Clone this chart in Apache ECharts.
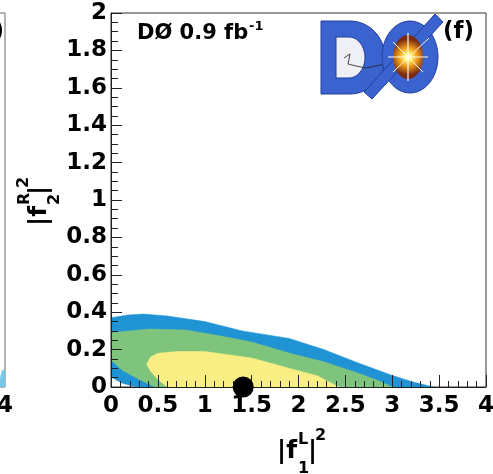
<!DOCTYPE html>
<html><head><meta charset="utf-8">
<script src="https://cdn.jsdelivr.net/npm/echarts@6/dist/echarts.min.js"></script>
<style>html,body{margin:0;padding:0;background:#fff}#c{width:493px;height:474px}</style>
</head><body><div id="c"></div>
<script>
// ---- data ----
const xTickValues = [0, 0.5, 1, 1.5, 2, 2.5, 3, 3.5, 4];
const yTickValues = [0, 0.2, 0.4, 0.6, 0.8, 1, 1.2, 1.4, 1.6, 1.8, 2];
// outer contour (blue)
const outerX = [0, 0, 0.18, 0.35, 0.6, 1.0, 1.4, 1.9, 2.27, 2.63, 2.98, 3.2, 3.44, 0.27, 0.12];
const outerY = [0.053, 0.37, 0.385, 0.39, 0.38, 0.35, 0.30, 0.26, 0.20, 0.13, 0.065, 0.03, 0, 0, 0.02];
// middle contour (green)
const midX = [0, 0, 0.4, 0.8, 1.2, 1.5, 1.91, 2.27, 2.63, 2.85, 3.0, 0.47, 0.3, 0.12];
const midY = [0.144, 0.29, 0.31, 0.305, 0.27, 0.24, 0.18, 0.135, 0.075, 0.035, 0, 0, 0.04, 0.09];
// inner contour (yellow)
const innerX = [0.38, 0.42, 0.5, 0.7, 1.0, 1.5, 1.9, 2.2, 2.43, 0.6, 0.5, 0.42];
const innerY = [0.12, 0.16, 0.18, 0.19, 0.19, 0.155, 0.10, 0.06, 0, 0, 0.04, 0.085];
// neighbouring panel fragment
const leftX = [3.94, 3.94, 3.97, 4.0, 4.0];
const leftY = [0, 0.03, 0.09, 0.09, 0];
const leftTickLabels = [4];
// best fit point
const bestX = [1.41];
const bestY = [0];

const toPts = (xs, ys) => xs.map((x, i) => [x, ys[i]]);
const FONT = '"DejaVu Sans", "Liberation Sans", sans-serif';
const pick = (list, v) => { const t = list.find(a => Math.abs(a - v) < 1e-6); return t === undefined ? '' : String(t); };

function polySeries(name, xs, ys, color, gi) {
  const pts = toPts(xs, ys);
  return {
    type: 'custom', name, xAxisIndex: gi, yAxisIndex: gi, z: 2,
    data: pts, clip: true, silent: true,
    renderItem: function (params, api) {
      if (params.dataIndex !== 0) return null;
      const p = pts.map(d => api.coord(d));
      return { type: 'polygon', shape: { points: p }, style: { fill: color, stroke: color, lineWidth: 0.5 } };
    }
  };
}

function txt(x, y, s, size, align, extra) {
  return Object.assign({
    type: 'text', x, y, z: 100,
    style: { text: s, font: 'bold ' + size + 'px ' + FONT, fill: '#000',
      textAlign: align || 'left', textVerticalAlign: 'middle' }
  }, extra || {});
}

function axisTitle(x, y, rot, sup, sub, supOff, subOff) {
  return {
    type: 'group', x, y, rotation: rot, z: 100,
    children: [
      txt(0, 0, '|f', 25, 'left'),
      txt(21, supOff, sup, 16, 'left'),
      txt(21, subOff, sub, 16, 'left'),
      txt(31, 0, '|', 25, 'left'),
      txt(38, -15, '2', 16, 'left')
    ]
  };
}

// logo shape helpers (decorative only)
function halfEll(cx, cy, rx, ry, a0, a1, n) {
  const out = [];
  for (let i = 0; i <= n; i++) { const a = a0 + (a1 - a0) * i / n; out.push([cx + rx * Math.cos(a), cy + ry * Math.sin(a)]); }
  return out;
}
const blue = '#3b63cf', blueEdge = '#23409a';
const dOuter = [[321, 21]].concat(halfEll(350, 57.5, 35, 36.5, -Math.PI / 2, Math.PI / 2, 24)).concat([[321, 94]]);
const dInner = [[336, 37]].concat(halfEll(349, 57.5, 16, 20.5, -Math.PI / 2, Math.PI / 2, 20)).concat([[336, 78]]);

const logo = {
  type: 'group', z: 90,
  children: [
    { type: 'polygon', shape: { points: dOuter }, style: { fill: blue, stroke: blueEdge, lineWidth: 1 } },
    { type: 'polygon', shape: { points: dInner }, style: { fill: '#eef0f6', stroke: blueEdge, lineWidth: 1 } },
    { type: 'polyline', shape: { points: [[344, 58], [350, 54], [348, 64], [356, 66], [366, 68], [385, 64], [400, 58]] }, style: { stroke: '#222', lineWidth: 0.8, fill: null } },
    { type: 'polygon', shape: { points: halfEll(410, 57, 28, 36, 0, Math.PI * 2, 48) }, style: { fill: blue, stroke: blueEdge, lineWidth: 1 } },
    { type: 'polygon', shape: { points: [[364, 92], [372, 99], [443, 22], [435, 14]] }, style: { fill: blue, stroke: blueEdge, lineWidth: 1 } },
    { type: 'polygon', shape: { points: halfEll(408, 57, 15, 22, 0, Math.PI * 2, 40) }, style: {
      fill: { type: 'radial', x: 0.5, y: 0.5, r: 0.6, colorStops: [
        { offset: 0, color: '#ffffff' }, { offset: 0.2, color: '#fff47a' },
        { offset: 0.5, color: '#f2a11f' }, { offset: 1, color: '#7a2a10' }] } } },
    { type: 'line', shape: { x1: 388, y1: 57, x2: 428, y2: 57 }, style: { stroke: '#fffbe0', lineWidth: 1.2 } },
    { type: 'line', shape: { x1: 408, y1: 33, x2: 408, y2: 81 }, style: { stroke: '#fffbe0', lineWidth: 1.2 } },
    { type: 'line', shape: { x1: 393, y1: 42, x2: 423, y2: 72 }, style: { stroke: '#fffbe0', lineWidth: 1 } },
    { type: 'line', shape: { x1: 393, y1: 72, x2: 429, y2: 38 }, style: { stroke: '#fffbe0', lineWidth: 1 } }
  ]
};

const chart = echarts.init(document.getElementById('c'), null, { renderer: 'canvas' });
chart.setOption({
  animation: false,
  backgroundColor: '#fff',
  grid: [
    { left: 111, top: 13, width: 375, height: 374, show: true, borderColor: '#333', borderWidth: 1, backgroundColor: '#fff', containLabel: false, outerBoundsMode: 'none' },
    { left: -370, top: 13, width: 375, height: 374, show: true, borderColor: '#666', borderWidth: 1, backgroundColor: '#fff', containLabel: false, outerBoundsMode: 'none' }
  ],
  xAxis: [
    { gridIndex: 0, type: 'value', min: 0, max: 4, interval: 0.5, z: 10,
      axisLine: { show: true, onZero: false, lineStyle: { color: '#222', width: 1 } },
      axisTick: { show: true, inside: true, length: 12, lineStyle: { color: '#222', width: 1 } },
      minorTick: { show: true, splitNumber: 5, length: 6, lineStyle: { color: '#222', width: 1 } },
      splitLine: { show: false },
      axisLabel: { margin: 8, color: '#000', fontSize: 23, fontWeight: 'bold', fontFamily: FONT,
        formatter: v => pick(xTickValues, v) } },
    { gridIndex: 1, type: 'value', min: 0, max: 4, interval: 0.5,
      axisLine: { show: false }, axisTick: { show: false }, splitLine: { show: false },
      axisLabel: { margin: 8, color: '#000', fontSize: 23, fontWeight: 'bold', fontFamily: FONT,
        formatter: v => pick(leftTickLabels, v) } }
  ],
  yAxis: [
    { gridIndex: 0, type: 'value', min: 0, max: 2, interval: 0.2, z: 10,
      axisLine: { show: true, onZero: false, lineStyle: { color: '#222', width: 1 } },
      axisTick: { show: true, inside: true, length: 11, lineStyle: { color: '#222', width: 1 } },
      minorTick: { show: true, splitNumber: 4, length: 7, lineStyle: { color: '#222', width: 1 } },
      splitLine: { show: false },
      axisLabel: { margin: 4, color: '#000', fontSize: 23, fontWeight: 'bold', fontFamily: FONT,
        formatter: v => pick(yTickValues, v) } },
    { gridIndex: 1, type: 'value', min: 0, max: 2, interval: 0.2,
      axisLine: { show: false }, axisTick: { show: false }, splitLine: { show: false }, axisLabel: { show: false } }
  ],
  series: [
    polySeries('outer', outerX, outerY, '#1f93d3', 0),
    polySeries('mid', midX, midY, '#7fc47c', 0),
    polySeries('inner', innerX, innerY, '#f8ee84', 0),
    polySeries('leftFrag', leftX, leftY, '#74c8e8', 1),
    { type: 'scatter', xAxisIndex: 0, yAxisIndex: 0, data: toPts(bestX, bestY), symbol: 'circle', symbolSize: 21,
      itemStyle: { color: '#000', opacity: 1 }, clip: false, z: 20 }
  ],
  graphic: [
    txt(137, 34, 'DØ 0.9 fb', 21, 'left'),
    txt(249, 27, '-1', 13, 'left'),
    txt(443, 32, '(f)', 23, 'left'),
    txt(4, 32, '(e)', 23, 'right'),
    logo,
    axisTitle(277, 451, 0, 'L', '1', -11, 18),
    axisTitle(39, 226, Math.PI / 2, 'R', '2', -14, 16)
  ]
});
</script>
</body></html>
